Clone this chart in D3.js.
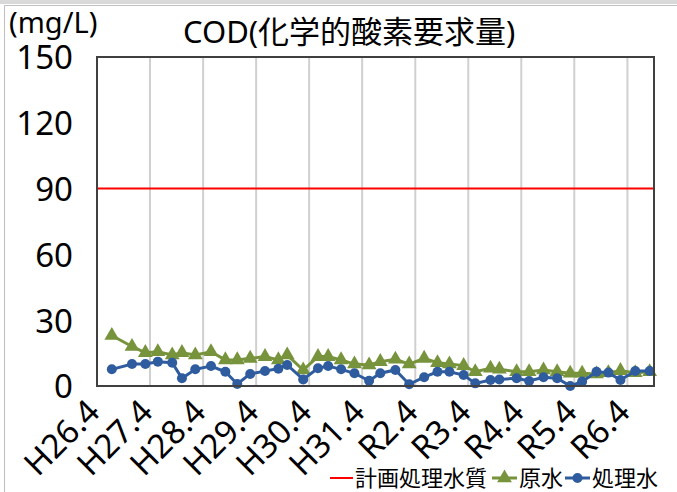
<!DOCTYPE html>
<html><head><meta charset="utf-8">
<script src="https://cdn.jsdelivr.net/npm/d3@7"></script>
<style>body{margin:0;background:#fff}svg{display:block}</style>
</head><body><svg id="c" width="677" height="492"></svg>
<script>
const sampleDates = ["2014-07-12","2014-11-28","2015-02-28","2015-05-25","2015-09-01","2015-11-07","2016-02-07","2016-05-25","2016-09-01","2016-11-22","2017-02-19","2017-06-01","2017-09-01","2017-11-01","2018-02-19","2018-06-01","2018-08-10","2018-11-07","2019-02-07","2019-05-19","2019-08-04","2019-11-16","2020-02-19","2020-06-01","2020-09-01","2020-11-22","2021-02-28","2021-05-19","2021-09-01","2021-11-01","2022-02-28","2022-05-25","2022-09-01","2022-12-04","2023-03-04","2023-05-25","2023-09-01","2023-11-22","2024-02-13","2024-05-25","2024-09-01"];
const rawWater = [23,18,15.2,15.6,14.1,15.2,14.1,15.6,11.9,11.9,12.6,13.4,11.9,14.1,7.3,13.4,13.4,11.9,10.0,9.6,11.1,12.2,10.0,12.6,10.6,10.0,9.3,6.5,8.1,7.6,6.5,6.5,7.3,6.5,5.8,5.8,5.5,6.0,7.0,6.0,6.5];
const treatedWater = [7.6,10.0,10.0,11.1,10.6,3.5,7.6,9.1,6.5,0.9,5.5,6.8,7.9,9.6,3.0,8.1,9.1,7.6,5.8,2.4,5.8,7.3,0.8,4.0,6.5,6.5,5.0,1.2,2.7,3.0,3.5,2.3,4.0,3.5,0,2.0,6.5,6.1,2.7,6.8,6.8];
const planQuality = 90;
const yTicks = [0,30,60,90,120,150];
const xTickLabels = ["H26.4","H27.4","H28.4","H29.4","H30.4","H31.4","R2.4","R3.4","R4.4","R5.4","R6.4"];
const xTickDates = ["2014-04-01","2015-04-01","2016-04-01","2017-04-01","2018-04-01","2019-04-01","2020-04-01","2021-04-01","2022-04-01","2023-04-01","2024-04-01"];
const xDomain = ["2014-04-01","2024-10-01"];
const legendLabels = ["計画処理水質","原水","処理水"];
const titleText = "COD(化学的酸素要求量)";
const unitText = "(mg/L)";

const parse = d3.utcParse("%Y-%m-%d");
const svg = d3.select("#c");
const FONT = "'Noto Sans','Noto Sans CJK JP',sans-serif";
const JFONT = "'Noto Sans CJK JP',sans-serif";
const L = 97, R = 654, T = 57, B = 386;
const x = d3.scaleUtc().domain(xDomain.map(parse)).range([L, R]);
const y = d3.scaleLinear().domain([0, 150]).range([B, T]);

// outer frame
svg.append("rect").attr("x",0).attr("y",0).attr("width",677).attr("height",4).attr("fill","#d9d9d9");
svg.append("line").attr("x1",4.5).attr("x2",677).attr("y1",5.5).attr("y2",5.5).attr("stroke","#bfbfbf");
svg.append("line").attr("x1",4.5).attr("x2",4.5).attr("y1",5.5).attr("y2",492).attr("stroke","#bfbfbf");

// vertical gridlines
svg.append("g").selectAll("line").data(xTickDates.slice(1)).join("line")
  .attr("x1", d => x(parse(d))).attr("x2", d => x(parse(d)))
  .attr("y1", T).attr("y2", B).attr("stroke", "#d0d0d0").attr("stroke-width", 2);

// plan line
svg.append("line").attr("x1", L).attr("x2", R).attr("y1", y(planQuality)).attr("y2", y(planQuality))
  .attr("stroke", "#ff0000").attr("stroke-width", 2);

// y axis labels
const yAxis = d3.axisLeft(y).tickValues(yTicks).tickSize(0).tickPadding(0);
const ga = svg.append("g").attr("transform", `translate(73,0)`).call(yAxis);
ga.select(".domain").remove();
ga.selectAll("text").attr("font-family", FONT).attr("font-size", 33).attr("fill", "#000").attr("dy", "0.36em");

// x axis labels
const xAxis = d3.axisBottom(x).tickValues(xTickDates.map(parse)).tickFormat((d,i) => xTickLabels[i]).tickSize(0).tickPadding(0);
const gx = svg.append("g").attr("transform", `translate(0,${B})`).call(xAxis);
gx.select(".domain").remove();
gx.selectAll("text").attr("font-family", FONT).attr("font-size", 33).attr("fill", "#000")
  .attr("text-anchor", "end").attr("dy", null).attr("y", null)
  .attr("transform", "translate(4,28) rotate(-45)");

// series
const pts = sampleDates.map((d,i) => ({d: parse(d), raw: rawWater[i], tr: treatedWater[i]}));
const green = "#77933c", blue = "#2e5c9e";
svg.append("path").datum(pts).attr("fill","none").attr("stroke",green).attr("stroke-width",3)
  .attr("d", d3.line().x(p => x(p.d)).y(p => y(p.raw)));
const tri = d3.symbol().type(d3.symbolTriangle).size(95);
svg.append("g").selectAll("path").data(pts).join("path")
  .attr("d", tri).attr("fill", green)
  .attr("transform", p => `translate(${x(p.d)},${y(p.raw)})`);
svg.append("path").datum(pts).attr("fill","none").attr("stroke",blue).attr("stroke-width",3)
  .attr("d", d3.line().x(p => x(p.d)).y(p => y(p.tr)));
svg.append("g").selectAll("circle").data(pts).join("circle")
  .attr("cx", p => x(p.d)).attr("cy", p => y(p.tr)).attr("r", 5).attr("fill", blue);

// plot border
svg.append("rect").attr("x", L).attr("y", T).attr("width", R-L).attr("height", B-T)
  .attr("fill","none").attr("stroke","#404040").attr("stroke-width",2);

// title and unit
svg.append("text").attr("x", 183).attr("y", 43).attr("font-family", FONT).attr("font-size", 31).text(titleText);
svg.append("text").attr("x", 9).attr("y", 33).attr("font-family", FONT).attr("font-size", 29).text(unitText);

// legend
const lg = svg.append("g").attr("font-family", JFONT).attr("font-size", 22);
const ly = 478;
lg.append("line").attr("x1",330).attr("x2",353).attr("y1",ly).attr("y2",ly).attr("stroke","#ff0000").attr("stroke-width",2);
lg.append("text").attr("x",355).attr("y",ly).attr("dy","0.36em").text(legendLabels[0]);
lg.append("line").attr("x1",492).attr("x2",517).attr("y1",ly).attr("y2",ly).attr("stroke",green).attr("stroke-width",3);
lg.append("path").attr("d", tri).attr("fill", green).attr("transform",`translate(504.5,${ly})`);
lg.append("text").attr("x",519).attr("y",ly).attr("dy","0.36em").text(legendLabels[1]);
lg.append("line").attr("x1",565).attr("x2",590).attr("y1",ly).attr("y2",ly).attr("stroke",blue).attr("stroke-width",3);
lg.append("circle").attr("cx",577.5).attr("cy",ly).attr("r",5).attr("fill",blue);
lg.append("text").attr("x",592).attr("y",ly).attr("dy","0.36em").text(legendLabels[2]);
</script></body></html>
